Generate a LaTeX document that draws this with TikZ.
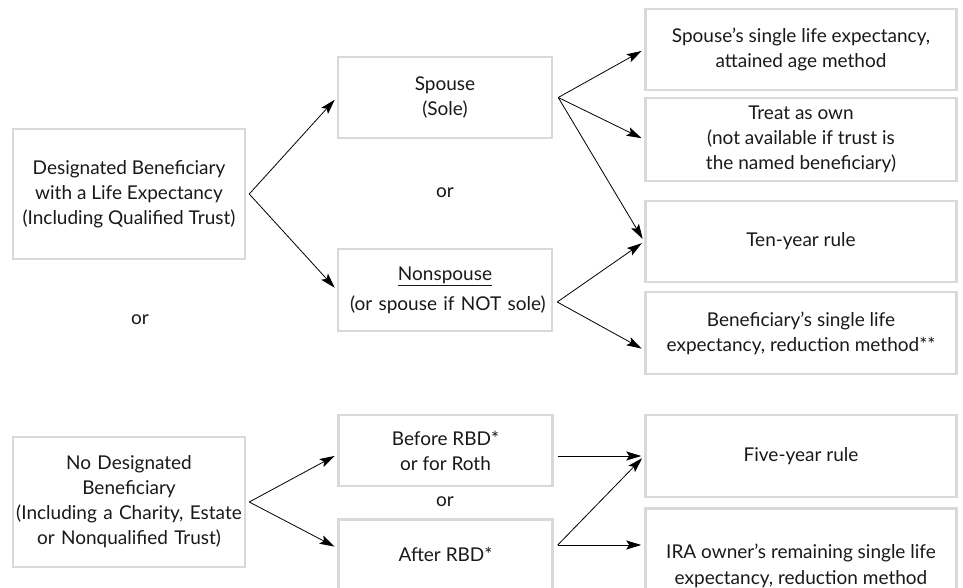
\documentclass[tikz,border=0pt]{standalone}
\usepackage{fontspec}
\setmainfont{Lato}
\usetikzlibrary{arrows.meta,calc}
\definecolor{boxgray}{HTML}{D9D9D9}

\begin{document}
\begin{tikzpicture}[x=1pt, y=-1pt, every node/.style={font=\fontsize{19}{25}\selectfont, text=black!90},
	>={Stealth[length=15pt,width=9pt,inset=3pt]},
	bx/.style={draw=boxgray, line width=2.5pt, align=center, inner sep=0pt},
	cut/.style={bx, anchor=north, text depth=120pt}]
	\useasboundingbox (0,0) rectangle (963,588);
	\clip (0,0) rectangle (963,588);
	% left column
	\node[bx, minimum width=232pt, minimum height=130pt] (desig) at (129,194) {Designated Beneficiary\\with a Life Expectancy\\(Including Qualified Trust)};
	\node[bx, minimum width=232pt, minimum height=130pt, text width=226pt] (nodesig) at (129,502) {No Designated\\Beneficiary\\\mbox{(Including a Charity, Estate}\\or Nonqualified Trust)};
	\node (orleft) at (140,320) {or};
	% middle column
	\node[bx, minimum width=214pt, minimum height=81pt] (spouse) at (445,97.5) {Spouse\\(Sole)};
	\node (ormid) at (445,193) {or};
	\node[bx, minimum width=214pt, minimum height=82pt, text width=190pt] (nonsp) at (445,290) {\underline{Nonspouse}\\[5pt]\mbox{(or spouse if NOT sole)}};
	\node[bx, minimum width=214pt, minimum height=71pt] (beforerbd) at (445.5,450.5) {Before RBD*\\or for Roth};
	\node (orlow) at (445,502) {or};
	\node[cut, minimum width=214pt, text height=42pt] (afterrbd) at (445.5,518) {After RBD*};
	% right column
	\node[bx, minimum width=311pt, minimum height=81pt] (attained) at (801,49.5) {Spouse’s single life expectancy,\\attained age method};
	\node[bx, minimum width=311pt, minimum height=83pt] (treatown) at (801,139.5) {Treat as own\\(not available if trust is\\the named beneficiary)};
	\node[bx, minimum width=311pt, minimum height=81pt] (tenyr) at (801,241.5) {Ten-year rule};
	\node[bx, minimum width=311pt, minimum height=82pt] (reduct) at (801,333) {Beneficiary’s single life\\expectancy, reduction method**};
	\node[bx, minimum width=311pt, minimum height=82pt] (fiveyr) at (801,456) {Five-year rule};
	\node[cut, minimum width=311pt, text height=76pt] (ownerle) at (801,507) {IRA owner’s remaining single life\\[1pt]expectancy, reduction method};
	% fork points
	\coordinate (fdesig) at ([xshift=3pt]desig.east);
	\coordinate (fnodesig) at ([xshift=3pt]nodesig.east);
	\coordinate (fspouse) at ([xshift=5pt]spouse.east);
	\coordinate (fnonsp) at ([shift={(4pt,-12pt)}]nonsp.east);
	\coordinate (fbefore) at ([shift={(4pt,-5.5pt)}]beforerbd.east);
	\coordinate (fafter) at ($(afterrbd.north east)+(4,27)$);
	\coordinate (tbefore) at ([yshift=-4pt]beforerbd.west);
	\coordinate (tafter) at ($(afterrbd.north west)+(0,30)$);
	\coordinate (towner) at ($(ownerle.north west)+(0,38)$);
	\coordinate (treduct) at ([yshift=-17pt]reduct.west);
	\foreach \s/\t in {fdesig/spouse.west, fdesig/nonsp.west, fspouse/attained.west, fspouse/treatown.west, fspouse/tenyr.west, fnonsp/tenyr.west, fnonsp/treduct, fnodesig/tbefore, fnodesig/tafter, fbefore/fiveyr.west, fafter/fiveyr.west, fafter/towner}
		\draw[->, line width=0.8pt, shorten >=3pt] (\s) -- (\t);
\end{tikzpicture}
\end{document}
